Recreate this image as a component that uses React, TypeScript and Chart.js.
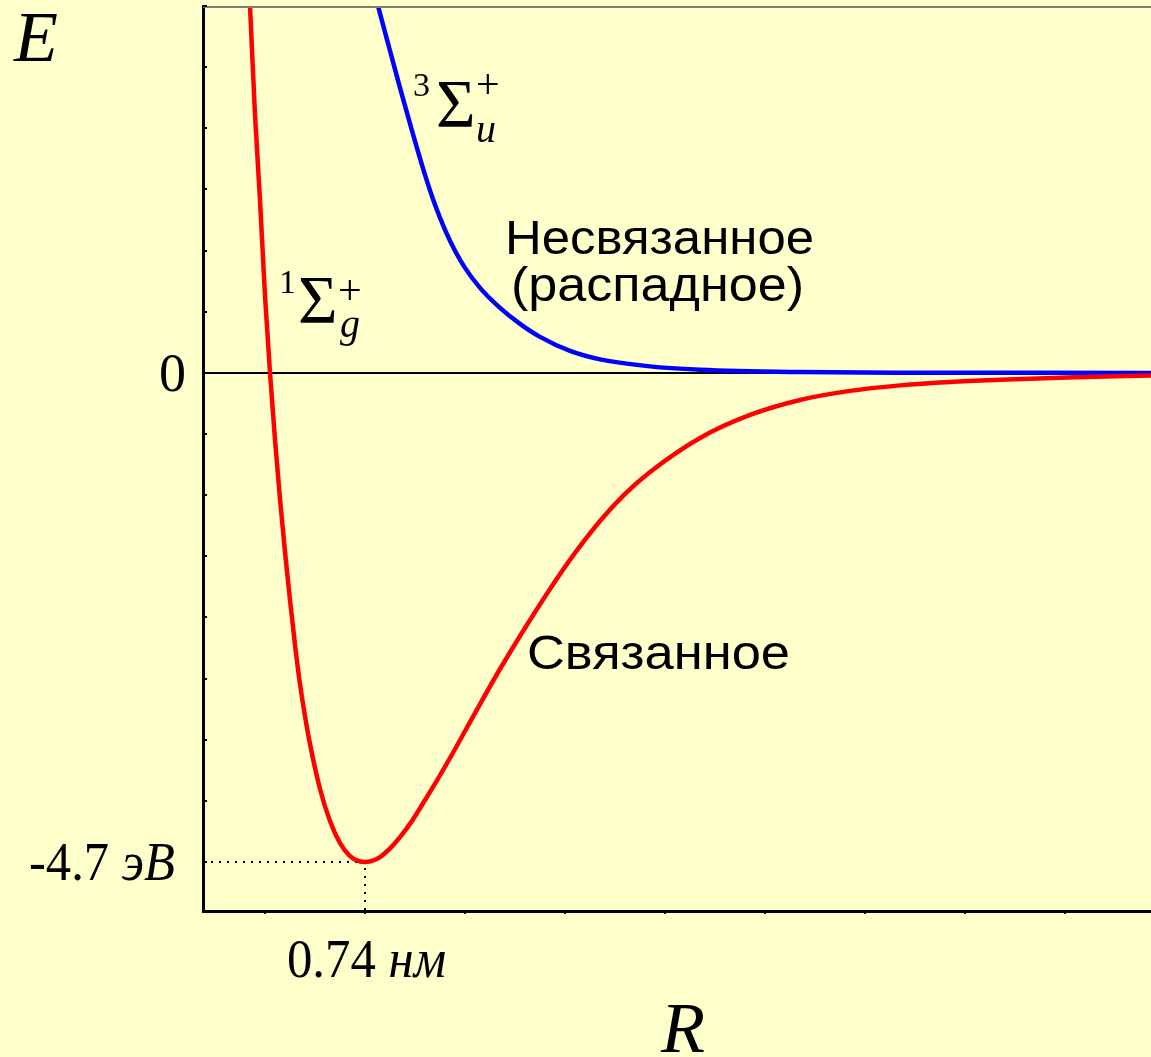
import React, { useEffect, useRef } from "react";
import { Chart, registerables } from "chart.js";

Chart.register(...registerables);

// Internuclear distance R (nm) and energy E (eV)
const BOUND_R = [0.296, 0.3145, 0.333, 0.3515, 0.37, 0.3885, 0.407, 0.4255, 0.444, 0.4625, 0.481, 0.4995, 0.518, 0.5365, 0.5735, 0.6105, 0.6475, 0.6845, 0.714, 0.74, 0.766, 0.7955, 0.8325, 0.8695, 0.914, 0.962, 1.0064, 1.0545, 1.147, 1.2395, 1.332, 1.4245, 1.517, 1.6095, 1.702, 1.7945, 1.9795, 2.1645, 2.3495, 2.5345, 2.7195, 2.9045, 3.0895, 3.367, 3.648];
const BOUND_E = [4.55, 3.525, 2.48, 1.66, 0.74, 0, -0.644, -1.211, -1.72, -2.182, -2.614, -2.989, -3.297, -3.566, -3.998, -4.306, -4.517, -4.642, -4.688, -4.7, -4.688, -4.652, -4.569, -4.46, -4.304, -4.104, -3.915, -3.7, -3.268, -2.845, -2.451, -2.076, -1.73, -1.4225, -1.163, -0.952, -0.625, -0.404, -0.26, -0.173, -0.12, -0.0865, -0.0654, -0.0413, -0.024];

const FREE_R = [0.766, 0.7881, 0.8325, 0.8695, 0.914, 0.962, 0.999, 1.036, 1.073, 1.11, 1.1655, 1.2395, 1.3135, 1.3875, 1.4985, 1.6095, 1.7945, 1.9795, 2.3495, 2.7195, 3.648];
const FREE_E = [3.749, 3.525, 3.095, 2.739, 2.326, 1.903, 1.615, 1.374, 1.173, 1.009, 0.817, 0.625, 0.471, 0.346, 0.211, 0.13, 0.0625, 0.031, 0.008, 0.002, 0];

const X_TICKS = [0.37, 0.74, 1.11, 1.48, 1.85, 2.22, 2.59, 2.96, 3.33];
const Y_TICKS = [3.525, 2.9375, 2.35, 1.7625, 1.175, 0.5875, 0, -0.5875, -1.175, -1.7625, -2.35, -2.9375, -3.525, -4.1125, -4.7];

const R_EQ = 0.74;
const E_MIN = -4.7;
const X_MIN = 0.1406;
const X_MAX = 3.648;
const Y_MIN = -5.17;
const Y_MAX = 3.525;

const BG = "#ffffcc";
const SERIF = '"Liberation Serif", "Times New Roman", serif';
const SANS = '"Liberation Sans", Arial, sans-serif';

type Part = { t: string; font: string };

// draws a run of differently styled pieces, squeezed to a given total width
function drawPartsFit(ctx: CanvasRenderingContext2D, parts: Part[], x: number, y: number, width: number) {
  const widths = parts.map((p) => {
    ctx.font = p.font;
    return ctx.measureText(p.t).width;
  });
  const total = widths.reduce((a, b) => a + b, 0);
  ctx.save();
  ctx.translate(x, y);
  ctx.scale(width / total, 1);
  ctx.textAlign = "left";
  ctx.textBaseline = "alphabetic";
  let cx = 0;
  parts.forEach((p, i) => {
    ctx.font = p.font;
    ctx.fillText(p.t, cx, 0);
    cx += widths[i];
  });
  ctx.restore();
}

function drawStretched(ctx: CanvasRenderingContext2D, text: string, font: string, x: number, y: number, width: number) {
  drawPartsFit(ctx, [{ t: text, font }], x, y, width);
}

function drawAt(ctx: CanvasRenderingContext2D, text: string, font: string, x: number, y: number, align: CanvasTextAlign = "left") {
  ctx.font = font;
  ctx.textAlign = align;
  ctx.textBaseline = "alphabetic";
  ctx.fillText(text, x, y);
}

const decor = {
  id: "decor",
  beforeDraw(chart: any) {
    const ctx = chart.ctx as CanvasRenderingContext2D;
    ctx.save();
    ctx.fillStyle = BG;
    ctx.fillRect(0, 0, chart.width, chart.height);
    ctx.restore();
  },
  afterDraw(chart: any) {
    const ctx = chart.ctx as CanvasRenderingContext2D;
    const area = chart.chartArea;
    const xs = chart.scales.x;
    const ys = chart.scales.y;
    ctx.save();
    // top frame line
    ctx.strokeStyle = "#7f7f66";
    ctx.lineWidth = 2;
    ctx.beginPath();
    ctx.moveTo(area.left, area.top + 1);
    ctx.lineTo(area.right, area.top + 1);
    ctx.stroke();
    // inner y ticks
    ctx.strokeStyle = "#000";
    ctx.lineWidth = 2;
    Y_TICKS.forEach((v) => {
      const py = Math.round(ys.getPixelForValue(v));
      ctx.beginPath();
      ctx.moveTo(area.left, py);
      ctx.lineTo(area.left + 4, py);
      ctx.stroke();
    });

    ctx.fillStyle = "#000";
    // axis titles
    drawAt(ctx, "E", `italic 72px ${SERIF}`, 14, 61);
    drawAt(ctx, "R", `italic 72px ${SERIF}`, 661, 1052);

    // y labels
    const y0 = ys.getPixelForValue(0);
    drawAt(ctx, "0", `54px ${SERIF}`, 186, y0 + 18, "right");
    const yMin = ys.getPixelForValue(E_MIN);
    drawPartsFit(ctx, [
      { t: "-4.7 ", font: `54px ${SERIF}` },
      { t: "эВ", font: `italic 54px ${SERIF}` },
    ], 29, yMin + 18, 146);
    // x label
    const xEq = xs.getPixelForValue(R_EQ);
    drawPartsFit(ctx, [
      { t: "0.74 ", font: `54px ${SERIF}` },
      { t: "нм", font: `italic 54px ${SERIF}` },
    ], xEq - 78, 977, 159);

    // term symbols
    drawAt(ctx, "3", `34px ${SERIF}`, 413, 96);
    drawAt(ctx, "Σ", `68px ${SERIF}`, 436, 126);
    drawAt(ctx, "+", `42px ${SERIF}`, 476, 98);
    drawAt(ctx, "u", `italic 40px ${SERIF}`, 476, 142);

    drawAt(ctx, "1", `34px ${SERIF}`, 279, 293);
    drawAt(ctx, "Σ", `68px ${SERIF}`, 298, 322);
    drawAt(ctx, "+", `42px ${SERIF}`, 338, 304);
    drawAt(ctx, "g", `italic 40px ${SERIF}`, 340, 337);

    // state descriptions
    drawStretched(ctx, "Несвязанное", `48px ${SANS}`, 505, 254, 309);
    drawStretched(ctx, "(распадное)", `48px ${SANS}`, 511, 301, 293);
    drawStretched(ctx, "Связанное", `48px ${SANS}`, 527, 669, 263);
    ctx.restore();
  },
};

const toPts = (xs: number[], ys: number[]) => xs.map((x, i) => ({ x, y: ys[i] }));

export default function App() {
  const ref = useRef<HTMLCanvasElement>(null);
  useEffect(() => {
    document.body.style.background = BG;
    const canvas = ref.current!;
    const chart = new Chart(canvas, {
      type: "line",
      data: {
        datasets: [
          {
            data: toPts(BOUND_R, BOUND_E),
            borderColor: "#ff0000",
            borderWidth: 4.5,
            pointRadius: 0,
            cubicInterpolationMode: "monotone",
            fill: false,
            clip: 0,
          },
          {
            data: toPts(FREE_R, FREE_E),
            borderColor: "#0000ff",
            borderWidth: 4.5,
            pointRadius: 0,
            cubicInterpolationMode: "monotone",
            fill: false,
            clip: 0,
          },
          {
            data: [{ x: X_MIN, y: 0 }, { x: X_MAX, y: 0 }],
            borderColor: "#000000",
            borderWidth: 2,
            pointRadius: 0,
            fill: false,
          },
          {
            data: [{ x: X_MIN, y: E_MIN }, { x: R_EQ, y: E_MIN }, { x: R_EQ, y: Y_MIN }],
            borderColor: "#000000",
            borderWidth: 2,
            borderDash: [2, 6],
            pointRadius: 0,
            fill: false,
          },
        ],
      } as any,
      options: {
        animation: false,
        responsive: false,
        maintainAspectRatio: false,
        events: [],
        layout: { padding: { left: 203, top: 6, right: 0, bottom: 143 } },
        plugins: { legend: { display: false }, tooltip: { enabled: false } },
        scales: {
          x: {
            type: "linear",
            min: X_MIN,
            max: X_MAX,
            border: { display: true, color: "#000000", width: 3 },
            grid: { drawOnChartArea: false, drawTicks: true, tickLength: 3, color: "#000000", lineWidth: 2 },
            ticks: { display: false },
            afterBuildTicks: (s: any) => {
              s.ticks = X_TICKS.map((v) => ({ value: v }));
            },
          },
          y: {
            type: "linear",
            min: Y_MIN,
            max: Y_MAX,
            border: { display: true, color: "#000000", width: 3 },
            grid: { drawOnChartArea: false, drawTicks: false },
            ticks: { display: false },
            afterBuildTicks: (s: any) => {
              s.ticks = Y_TICKS.map((v) => ({ value: v }));
            },
          },
        },
      } as any,
      plugins: [decor],
    });
    return () => chart.destroy();
  }, []);
  return (
    <div style={{ position: "fixed", left: 0, top: 0, width: 1151, height: 1057, background: BG }}>
      <canvas ref={ref} width={1151} height={1057} style={{ display: "block", width: 1151, height: 1057 }} />
    </div>
  );
}
